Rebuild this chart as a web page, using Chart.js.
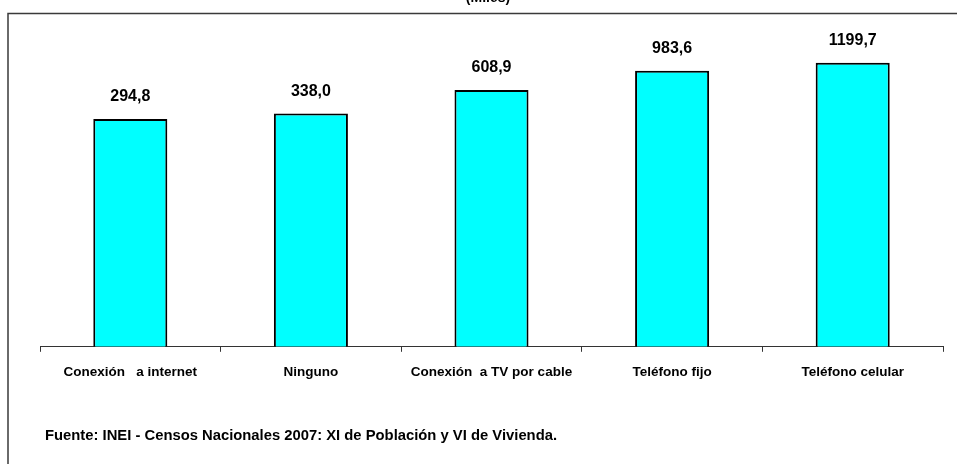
<!DOCTYPE html>
<html>
<head>
<meta charset="utf-8">
<script src="https://cdn.jsdelivr.net/npm/chart.js@4/dist/chart.umd.min.js"></script>
<style>
  html, body { margin: 0; padding: 0; background: #fff; }
  #wrap { width: 957px; height: 464px; position: relative; }
</style>
</head>
<body>
<div id="wrap"><canvas id="chart"></canvas></div>
<script>
var categories = ['Conexión   a internet', 'Ninguno', 'Conexión  a TV por cable', 'Teléfono fijo', 'Teléfono celular'];
var values = [294.8, 338.0, 608.9, 983.6, 1199.7];
var valueLabels = ['294,8', '338,0', '608,9', '983,6', '1199,7'];
var titleText = '(Miles)';
var sourceText = 'Fuente: INEI - Censos Nacionales 2007: XI de Población y VI de Vivienda.';

var FONT = "'Liberation Sans Narrow', 'Arial Narrow', 'Liberation Sans', sans-serif";

// frame, title, value labels and source note
var decorPlugin = {
  id: 'decor',
  beforeDraw: function(chart) {
    var ctx = chart.ctx;
    ctx.save();
    ctx.strokeStyle = '#3a3a3a';
    ctx.lineWidth = 1.5;
    ctx.beginPath();
    ctx.moveTo(8, 470);
    ctx.lineTo(8, 13.5);
    ctx.lineTo(960, 13.5);
    ctx.stroke();
    ctx.fillStyle = '#000';
    ctx.font = 'bold 14px ' + FONT;
    ctx.textAlign = 'center';
    ctx.textBaseline = 'alphabetic';
    ctx.fillText(titleText, 488, 2);
    ctx.restore();
  },
  afterDatasetsDraw: function(chart) {
    var ctx = chart.ctx;
    var meta = chart.getDatasetMeta(0);
    ctx.save();
    ctx.fillStyle = '#000';
    ctx.font = 'bold 16px ' + FONT;
    ctx.textAlign = 'center';
    ctx.textBaseline = 'middle';
    meta.data.forEach(function(bar, i) {
      ctx.fillText(valueLabels[i], bar.x, bar.y - 22);
    });
    ctx.font = 'bold 14.8px ' + FONT;
    ctx.textAlign = 'left';
    ctx.fillText(sourceText, 45, 436);
    ctx.restore();
  }
};

new Chart(document.getElementById('chart'), {
  type: 'bar',
  data: {
    labels: categories,
    datasets: [{
      data: values,
      backgroundColor: '#00ffff',
      borderColor: '#000',
      borderWidth: 2,
      barPercentage: 0.41,
      categoryPercentage: 1.0
    }]
  },
  options: {
    responsive: true,
    maintainAspectRatio: false,
    animation: false,
    layout: {
      padding: { left: 40, right: 14, top: 14.5, bottom: 71 }
    },
    plugins: {
      legend: { display: false },
      tooltip: { enabled: false }
    },
    scales: {
      x: {
        grid: {
          offset: true,
          drawOnChartArea: false,
          tickLength: 5,
          color: '#333'
        },
        border: { display: true, color: '#333', width: 1 },
        ticks: {
          autoSkip: false,
          maxRotation: 0,
          padding: 12.5,
          color: '#000',
          font: { family: FONT, size: 13.5, weight: 'bold' }
        }
      },
      y: {
        type: 'logarithmic',
        display: false,
        min: 1,
        max: 4000
      }
    }
  },
  plugins: [decorPlugin]
});
</script>
</body>
</html>
